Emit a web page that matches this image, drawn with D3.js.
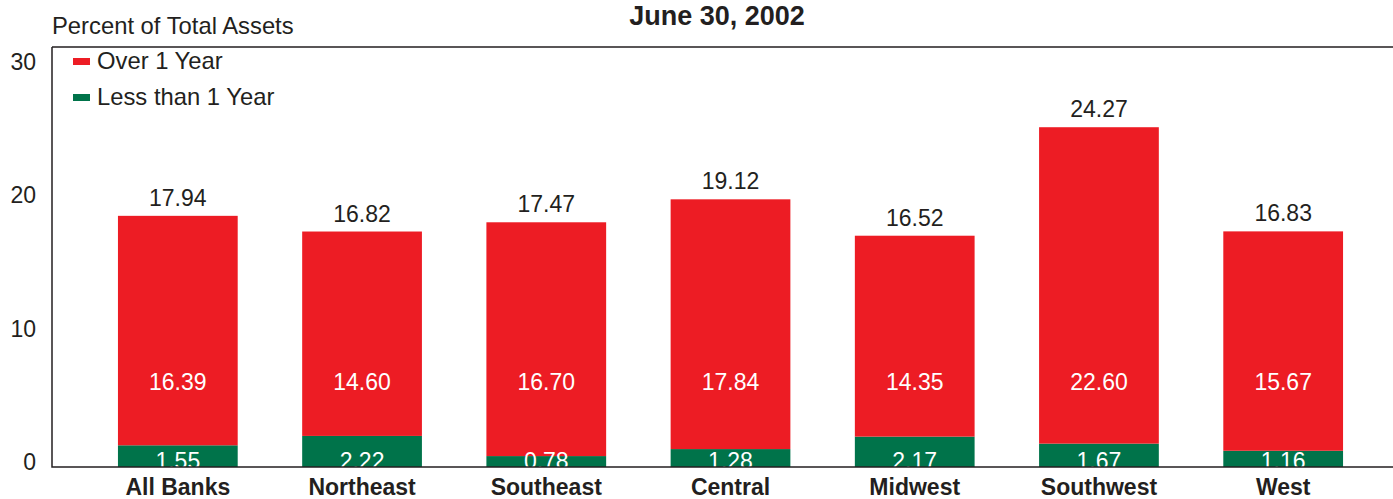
<!DOCTYPE html>
<html><head><meta charset="utf-8">
<script src="https://cdn.jsdelivr.net/npm/d3@7"></script>
<style>body{margin:0;background:#fff}svg{display:block;font-family:"Liberation Sans",Arial,sans-serif}</style>
</head><body><svg id="c" width="1393" height="499"></svg>
<script>
const categories = ["All Banks","Northeast","Southeast","Central","Midwest","Southwest","West"];
const lessThan1 = [1.55,2.22,0.78,1.28,2.17,1.67,1.16];
const over1 = [16.39,14.60,16.70,17.84,14.35,22.60,15.67];
const totals = [17.94,16.82,17.47,19.12,16.52,24.27,16.83];
const yTicks = [0,10,20,30];
const seriesNames = ["Over 1 Year","Less than 1 Year"];
const colors = {over:"#ED1C24", less:"#00734A", text:"#231F20"};

const svg = d3.select("#c");
const x0 = 52, yBase = 467, yTop = 47;
const x = d3.scaleBand().domain(categories).range([x0, 1409]).paddingInner(0.35).paddingOuter(0.358);
const y = d3.scaleLinear().domain([0,30]).range([yBase, yTop]);
const yLab = d3.scaleLinear().domain([0,30]).range([462, 62]);

svg.append("defs").append("clipPath").attr("id","plot")
  .append("rect").attr("x",x0).attr("y",0).attr("width",1393-x0).attr("height",yBase);

const data = categories.map((c,i)=>({c, less:lessThan1[i], over:over1[i], total:totals[i]}));
const g = svg.append("g").attr("clip-path","url(#plot)");

g.selectAll(".less").data(data).join("rect")
  .attr("x",d=>x(d.c)).attr("width",x.bandwidth())
  .attr("y",d=>y(d.less)).attr("height",d=>yBase-y(d.less)).attr("fill",colors.less);
g.selectAll(".over").data(data).join("rect")
  .attr("x",d=>x(d.c)).attr("width",x.bandwidth())
  .attr("y",d=>y(d.less+d.over)).attr("height",d=>y(d.less)-y(d.less+d.over)).attr("fill",colors.over);

// inner labels
g.selectAll(".ol").data(data).join("text")
  .attr("x",d=>x(d.c)+x.bandwidth()/2).attr("y",y(6.1)).attr("dy","0.35em")
  .attr("text-anchor","middle").attr("fill","#fff").attr("font-size",23).text(d=>d.over.toFixed(2));
g.selectAll(".ll").data(data).join("text")
  .attr("x",d=>x(d.c)+x.bandwidth()/2).attr("y",460.5).attr("dy","0.35em")
  .attr("text-anchor","middle").attr("fill","#fff").attr("font-size",23).text(d=>d.less.toFixed(2));
// totals
svg.selectAll(".tl").data(data).join("text")
  .attr("x",d=>x(d.c)+x.bandwidth()/2).attr("y",d=>y(d.less+d.over)-18).attr("dy","0.35em")
  .attr("text-anchor","middle").attr("fill",colors.text).attr("font-size",23).text(d=>d.total.toFixed(2));

// frame
svg.append("path").attr("d",`M${x0},${yTop}H1393M${x0},${yTop}V${yBase}H1393`)
  .attr("fill","none").attr("stroke",colors.text).attr("stroke-width",1.5);

// y axis labels
const ya = svg.append("g").attr("transform",`translate(${x0},0)`)
  .call(d3.axisLeft(yLab).tickValues(yTicks).tickSize(0).tickPadding(16).tickFormat(d3.format("d")));
ya.select(".domain").remove();
ya.selectAll("text").attr("font-size",23).attr("fill",colors.text).attr("font-family","Liberation Sans, Arial, sans-serif");

// x axis labels
const xa = svg.append("g").attr("transform",`translate(0,${yBase})`)
  .call(d3.axisBottom(x).tickSize(0).tickPadding(12));
xa.select(".domain").remove();
xa.selectAll("text").attr("font-size",23).attr("font-weight","bold").attr("fill",colors.text).attr("font-family","Liberation Sans, Arial, sans-serif");

// titles
svg.append("text").attr("x",717).attr("y",25).attr("text-anchor","middle")
  .attr("font-size",27).attr("font-weight","bold").attr("fill",colors.text).text("June 30, 2002");
svg.append("text").attr("x",52).attr("y",34)
  .attr("font-size",23.8).attr("fill",colors.text).text("Percent of Total Assets");

// legend
const leg = svg.append("g");
[[seriesNames[0],colors.over,61],[seriesNames[1],colors.less,97]].forEach(([n,c,yy])=>{
  leg.append("rect").attr("x",73).attr("y",yy-3).attr("width",17).attr("height",7).attr("fill",c);
  leg.append("text").attr("x",97).attr("y",yy).attr("dy","0.35em").attr("font-size",23.8).attr("fill",colors.text).text(n);
});
</script></body></html>
